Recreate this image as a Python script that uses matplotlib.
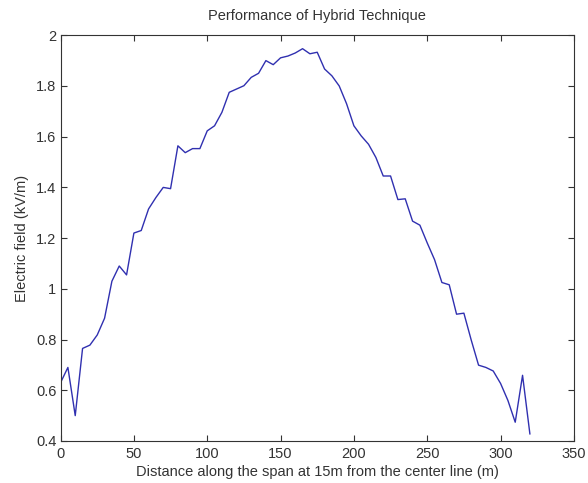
import matplotlib
matplotlib.use("Agg")
import matplotlib.pyplot as plt
from matplotlib.ticker import FuncFormatter

distance = list(range(0, 325, 5))
field = [0.63, 0.69, 0.50, 0.765, 0.778, 0.818, 0.884, 1.03, 1.09, 1.055,
         1.22, 1.23, 1.315, 1.36, 1.40, 1.395, 1.564, 1.537, 1.553, 1.553,
         1.623, 1.643, 1.696, 1.775, 1.788, 1.801, 1.834, 1.85, 1.90, 1.884,
         1.911, 1.918, 1.93, 1.947, 1.927, 1.933, 1.867, 1.84, 1.80, 1.73,
         1.643, 1.603, 1.57, 1.518, 1.445, 1.445, 1.352, 1.355, 1.267, 1.251,
         1.181, 1.115, 1.025, 1.016, 0.90, 0.904, 0.798, 0.699, 0.69, 0.676,
         0.627, 0.56, 0.474, 0.659, 0.428]

xticks = [0, 50, 100, 150, 200, 250, 300, 350]
yticks = [0.4, 0.6, 0.8, 1.0, 1.2, 1.4, 1.6, 1.8, 2.0]

plt.rcParams['font.family'] = ['Liberation Sans', 'DejaVu Sans']
fig = plt.figure(figsize=(5.88, 4.83), dpi=100)
ax = fig.add_axes([0.103, 0.087, 0.873, 0.840])
ax.plot(distance, field, color='#3030b0', linewidth=1.0)
ax.set_xlim(0, 350)
ax.set_ylim(0.4, 2.0)
ax.set_xticks(xticks)
ax.set_yticks(yticks)
ax.yaxis.set_major_formatter(FuncFormatter(lambda v, p: '%g' % round(v, 2)))
ax.tick_params(direction='in', top=True, right=True, labelsize=10.5,
               colors='#333333', length=4, width=0.8)
ax.tick_params(axis='x', pad=4)
ax.tick_params(axis='y', pad=3)
for s in ax.spines.values():
    s.set_linewidth(0.8)
    s.set_color('#333333')
ax.set_title('Performance of Hybrid Technique', fontsize=10.5, color='#333333', pad=11)
ax.set_xlabel('Distance along the span at 15m from the center line (m)', fontsize=10.5,
              color='#333333', labelpad=3)
ax.set_ylabel('Electric field (kV/m)', fontsize=10.5, color='#333333', labelpad=5)
fig.savefig('out.png', dpi=100)
